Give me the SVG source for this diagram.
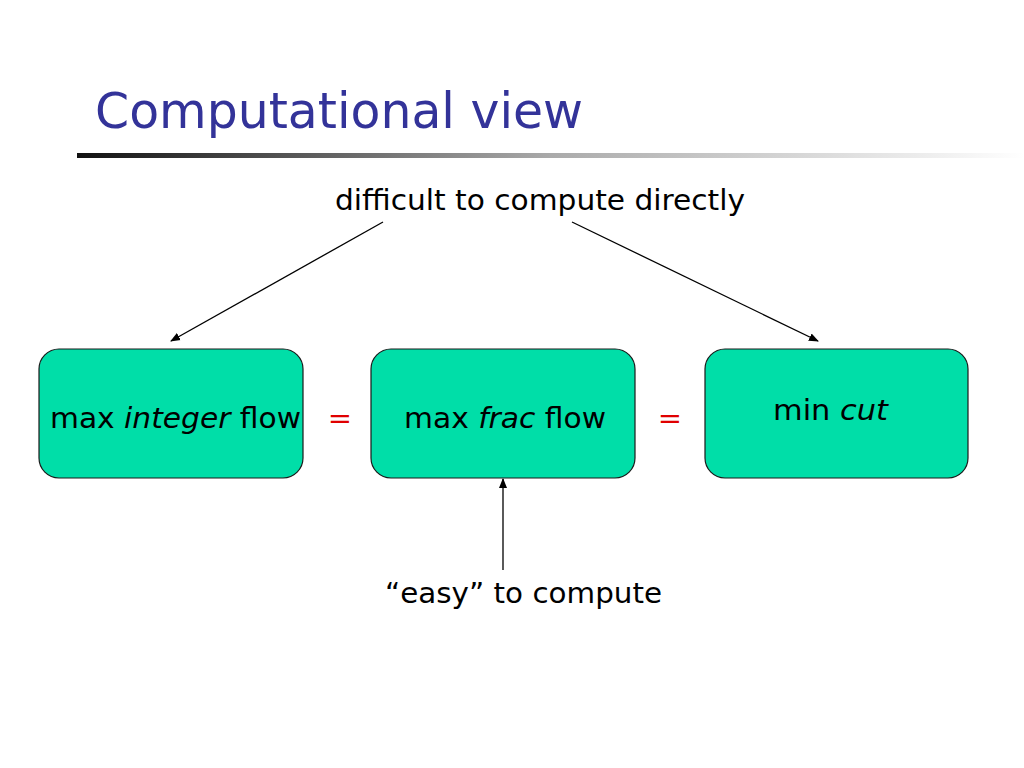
<svg xmlns="http://www.w3.org/2000/svg" width="1024" height="768" viewBox="0 0 1024 768">
<defs>
<linearGradient id="rule" x1="0" y1="0" x2="1" y2="0">
<stop offset="0" stop-color="#111111"/>
<stop offset="0.5" stop-color="#aaaaaa"/>
<stop offset="1" stop-color="#ffffff"/>
</linearGradient>
<marker id="ah" markerWidth="10" markerHeight="10" refX="9" refY="5" orient="auto" markerUnits="userSpaceOnUse">
<path d="M0,1 L10,5 L0,9 Z" fill="#000"/>
</marker>
<style>
.box{fill:#00DEA8;stroke:#1a1a1a;stroke-width:1.2}
.t{font-family:"DejaVu Sans","Liberation Sans",sans-serif;font-size:29px;fill:#000}
.eq{font-family:"DejaVu Sans","Liberation Sans",sans-serif;font-size:29px;fill:#e00000}
.c{stroke:#000;stroke-width:1.3;fill:none;marker-end:url(#ah)}
</style>
</defs>
<rect width="1024" height="768" fill="#fff"/>
<text x="95" y="128" font-family="DejaVu Sans,sans-serif" font-size="50" fill="#333399" textLength="488" lengthAdjust="spacingAndGlyphs">Computational view</text>
<rect x="77" y="153" width="947" height="5" fill="url(#rule)"/>
<g id="connectors">
<line class="c" x1="383" y1="222" x2="171" y2="341"/>
<line class="c" x1="572" y1="222" x2="818" y2="341"/>
<line class="c" x1="503" y1="570" x2="503" y2="479"/>
</g>
<g id="top-label"><text class="t" x="335" y="210" textLength="410" lengthAdjust="spacingAndGlyphs">difficult to compute directly</text></g>
<g id="node-integer">
<rect class="box" x="39" y="349" width="264" height="129" rx="20"/>
<text class="t" x="50" y="428" textLength="251" lengthAdjust="spacingAndGlyphs">max <tspan font-style="italic">integer</tspan> flow</text>
</g>
<g id="eq1"><text class="eq" x="340" y="428" text-anchor="middle">=</text></g>
<g id="node-frac">
<rect class="box" x="371" y="349" width="264" height="129" rx="20"/>
<text class="t" x="404" y="428" textLength="202" lengthAdjust="spacingAndGlyphs">max <tspan font-style="italic">frac</tspan> flow</text>
</g>
<g id="eq2"><text class="eq" x="670" y="428" text-anchor="middle">=</text></g>
<g id="node-cut">
<rect class="box" x="705" y="349" width="263" height="129" rx="20"/>
<text class="t" x="773" y="420" textLength="115" lengthAdjust="spacingAndGlyphs">min <tspan font-style="italic">cut</tspan></text>
</g>
<g id="bottom-label"><text class="t" x="385" y="603" textLength="277" lengthAdjust="spacingAndGlyphs">“easy” to compute</text></g>
</svg>
